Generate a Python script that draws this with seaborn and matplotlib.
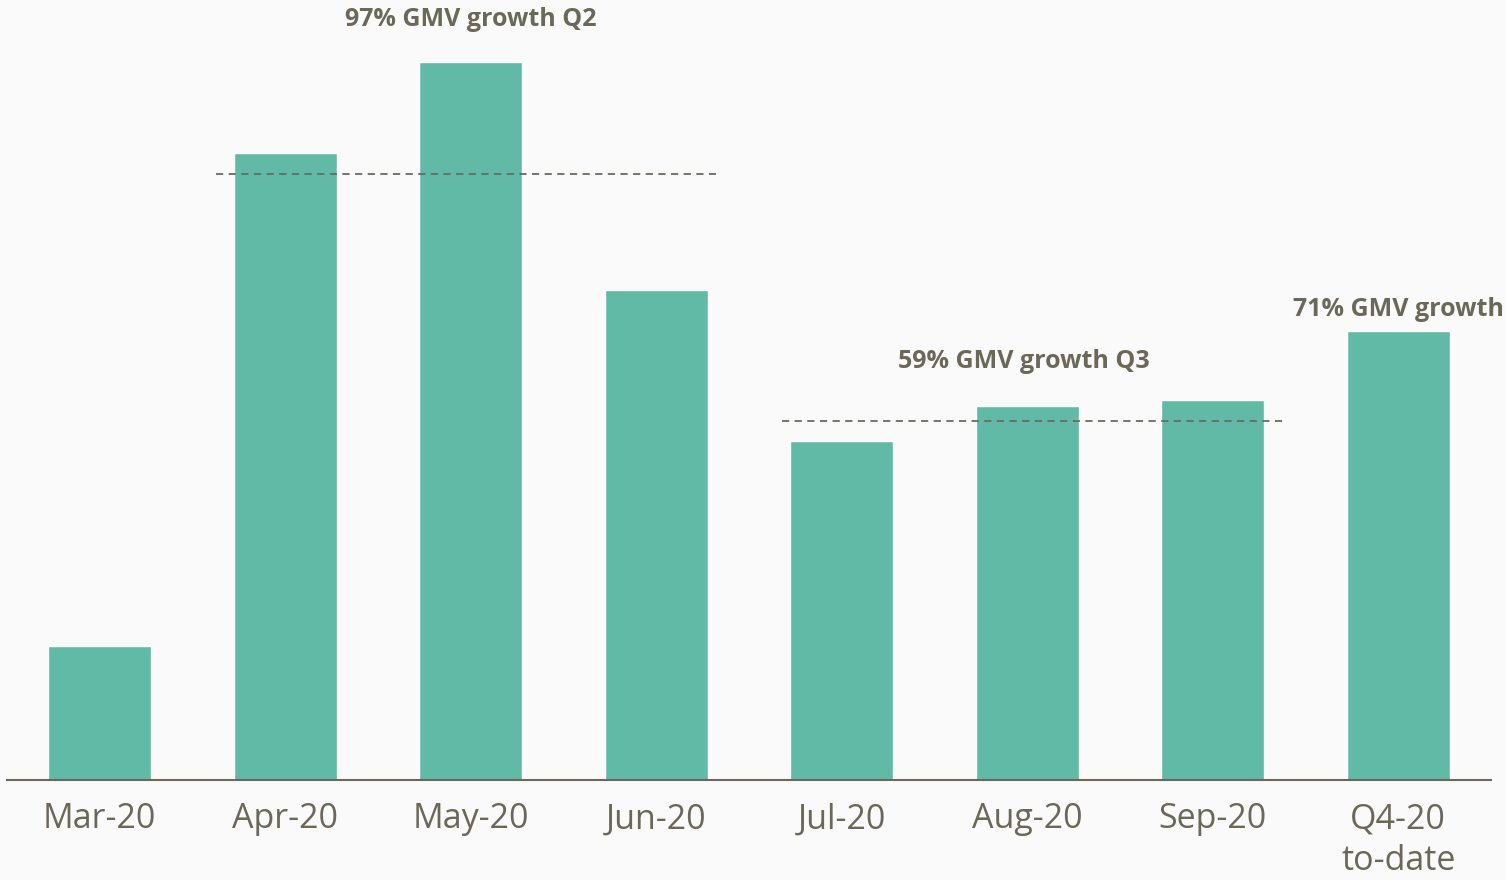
import matplotlib
matplotlib.use("Agg")
import matplotlib.pyplot as plt
import seaborn as sns
import pandas as pd

categories = ["Mar-20", "Apr-20", "May-20", "Jun-20", "Jul-20", "Aug-20", "Sep-20", "Q4-20\nto-date"]
gmv = [134, 627, 718, 490, 339, 374, 380, 449]
quarter_avg_labels = ["97% GMV growth Q2", "59% GMV growth Q3"]
quarter_avg_values = [606, 359]
q4_label = "71% GMV growth"

bar_color = "#61BAA6"
text_color = "#6B6858"
bg = "#FAFAFA"

sns.set_theme(style="white")
plt.rcParams["font.family"] = ["Open Sans", "DejaVu Sans"]

fig = plt.figure(figsize=(15.06, 8.8), dpi=100, facecolor=bg)
ax = fig.add_axes([7/1506, 100/880, 1484/1506, 780/880])
ax.set_facecolor(bg)

df = pd.DataFrame({"month": categories, "gmv": gmv})
sns.barplot(data=df, x="month", y="gmv", color=bar_color, saturation=1, width=0.555, ax=ax)

ax.set_xlim(-0.5, 7.5)
ax.set_ylim(0, 780)
ax.set_xlabel("")
ax.set_ylabel("")
ax.set_yticks([])
for s in ["top", "left", "right"]:
    ax.spines[s].set_visible(False)
ax.spines["bottom"].set_color(text_color)
ax.spines["bottom"].set_linewidth(1.5)
ax.tick_params(axis="x", length=0, pad=16, labelsize=24.5, labelcolor=text_color)
for t in ax.get_xticklabels():
    t.set_linespacing(1.3)
    t.set_verticalalignment("top")

# quarter average dashed lines
ax.hlines(quarter_avg_values[0], 0.625, 3.32, colors="#6b6b60", linestyles=(0, (4, 3)), linewidth=1.3)
ax.hlines(quarter_avg_values[1], 3.68, 6.38, colors="#6b6b60", linestyles=(0, (4, 3)), linewidth=1.3)

ax.text(2.0, 760, quarter_avg_labels[0], ha="center", va="center", fontsize=18, fontweight="bold", color=text_color)
ax.text(4.98, 419, quarter_avg_labels[1], ha="center", va="center", fontsize=18, fontweight="bold", color=text_color)
ax.text(7.0, 470, q4_label, ha="center", va="center", fontsize=18, fontweight="bold", color=text_color, clip_on=False)

fig.savefig("out.png", dpi=100, facecolor=bg)
